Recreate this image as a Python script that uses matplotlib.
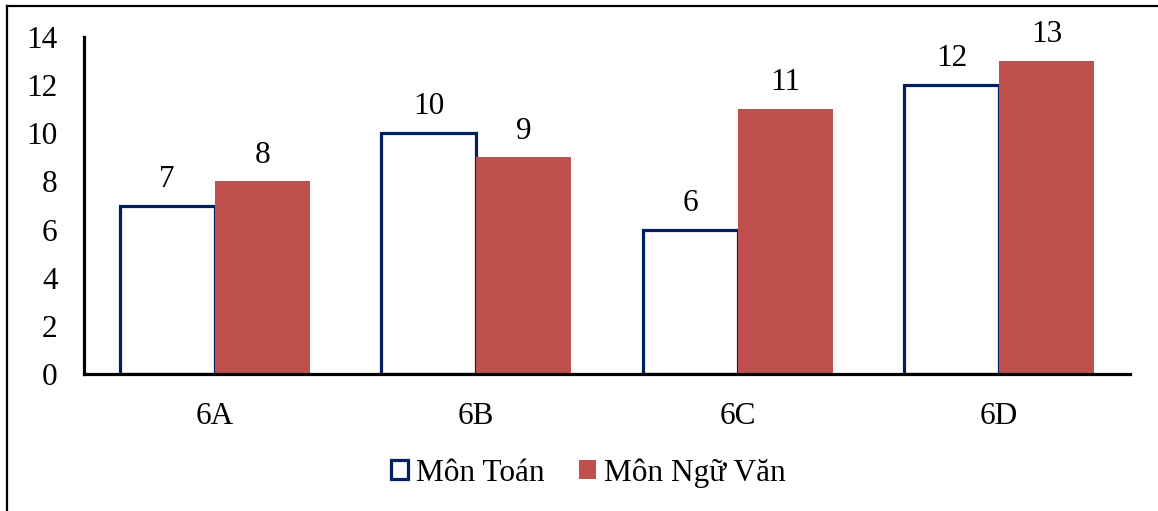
import matplotlib
matplotlib.use('Agg')
import matplotlib.pyplot as plt
import numpy as np
from matplotlib.lines import Line2D
from matplotlib.patches import Patch

plt.rcParams['font.family'] = ['Liberation Serif', 'DejaVu Serif']

# data
classes = ['6A', '6B', '6C', '6D']
toan = [7, 10, 6, 12]
van = [8, 9, 11, 13]
series_names = ['Môn Toán', 'Môn Ngữ Văn']

navy = '#002060'
red = '#C0504D'
fs = 22.5

fig = plt.figure(figsize=(11.58, 5.11), dpi=100)
ax = fig.add_axes([0.0725, 0.268, 0.9033, 0.6596])

x = np.arange(len(classes))
w = 0.363
b1 = ax.bar(x - w / 2, toan, w, facecolor='white', edgecolor=navy, linewidth=2.3)
b2 = ax.bar(x + w / 2, van, w, facecolor=red, edgecolor='none')

for bars, vals in [(b1, toan), (b2, van)]:
    for rect, v in zip(bars, vals):
        ax.annotate(str(v), (rect.get_x() + rect.get_width() / 2, v),
                    xytext=(0, 8.5), textcoords='offset points',
                    ha='center', va='bottom', fontsize=fs)

ax.set_xlim(-0.5, 3.5)
ax.set_ylim(0, 14)
ax.set_yticks(range(0, 15, 2))
ax.set_xticks(x)
ax.set_xticklabels(classes)
ax.tick_params(axis='y', length=0, pad=19, labelsize=fs)
ax.tick_params(axis='x', length=0, pad=20, labelsize=fs)

for s in ['top', 'right']:
    ax.spines[s].set_visible(False)
for s in ['left', 'bottom']:
    ax.spines[s].set_linewidth(2.3)
    ax.spines[s].set_color('black')
ax.spines['bottom'].set_zorder(5)

handles = [Patch(facecolor='white', edgecolor=navy, linewidth=2.3),
           Patch(facecolor=red, edgecolor='none')]
fig.legend(handles, series_names, loc='center', bbox_to_anchor=(0.508, 0.074),
           ncol=2, frameon=False, fontsize=fs, handlelength=0.55, handleheight=0.55,
           handletextpad=0.25, columnspacing=1.1)

# outer frame (top and left edges only)
fig.add_artist(Line2D([0.006, 1.0], [0.988, 0.988], color='black', linewidth=1.6,
                      transform=fig.transFigure))
fig.add_artist(Line2D([0.006, 0.006], [0.0, 0.988], color='black', linewidth=1.6,
                      transform=fig.transFigure))

fig.savefig('out.png', dpi=100)
